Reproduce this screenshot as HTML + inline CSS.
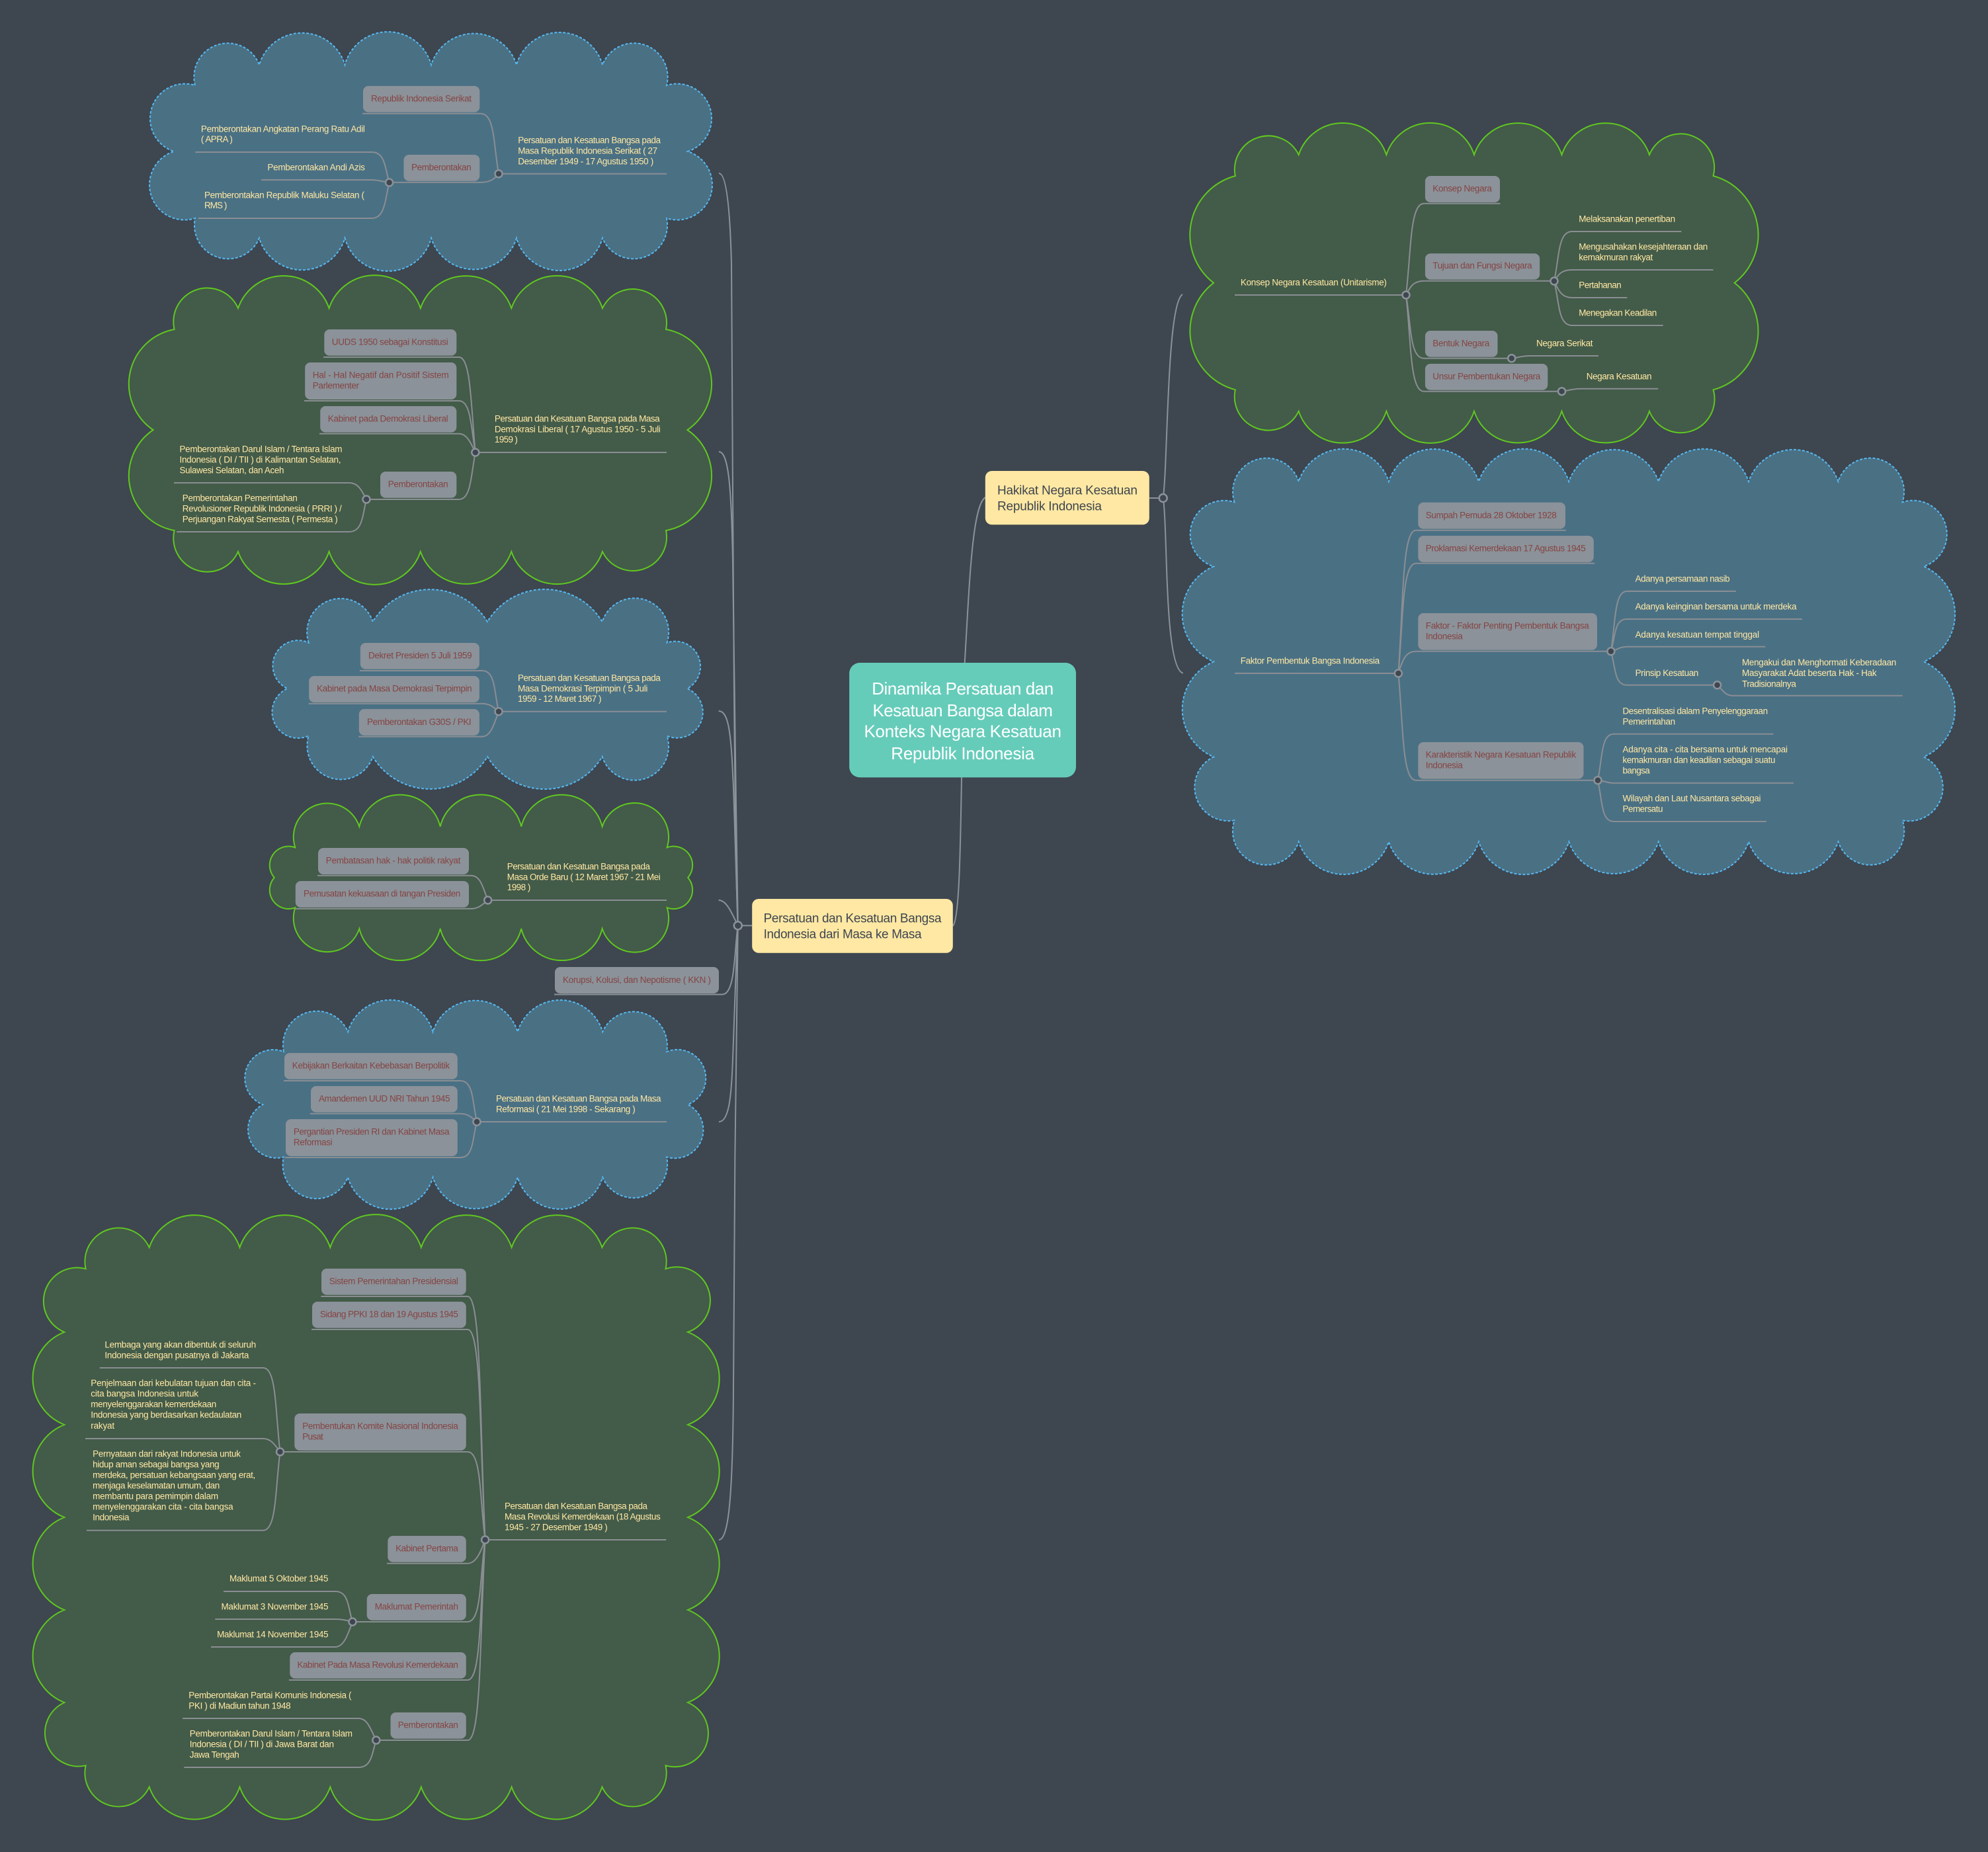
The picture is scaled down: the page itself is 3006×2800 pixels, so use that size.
<!DOCTYPE html>
<html><head><meta charset="utf-8"><title>Dinamika Persatuan dan Kesatuan Bangsa</title>
<style>
html,body{margin:0;padding:0;background:#3e4650}
svg{display:block}
text{font-family:"Liberation Sans",sans-serif}
.c{fill:none;stroke:#8b9299;stroke-width:2}
.t{fill:none;stroke:#8a8e93;stroke-width:2}
.gc{fill:#435b49;stroke:#5fc81f;stroke-width:2}
.bc{fill:#4a7084;stroke:#55b9f0;stroke-width:2;stroke-dasharray:4 2.5}
.j{fill:#3e4650;stroke:#8b9299;stroke-width:2.5}
.b rect{fill:#8b9299}
.b text{fill:#854444;font-size:13.5px}
.l text{fill:#ffe8a3;font-size:13.5px}
</style></head><body>
<svg xmlns="http://www.w3.org/2000/svg" width="3006" height="2800" viewBox="0 0 3006 2800">
<rect width="3006" height="2800" fill="#3e4650"/>

<!-- top level connectors -->
<g class="c">
<path d="M1458.7 1002C1466 880 1470 765 1489.8 752"/>
<path d="M1454 1175C1452 1300 1450 1390 1440.8 1400"/>
<path d="M1737.8 753H1758.7"/>
<path d="M1758.7 753C1766 700 1764 460 1788 445"/>
<path d="M1758.7 753C1766 800 1760 1010 1788.8 1017.8"/>
<path d="M1137.2 1399.4H1115.8"/>
<path d="M1115.8 1399C1110 1300 1108 700 1106 400C1105 360 1102 262 1087 262"/>
<path d="M1115.8 1399C1112 1200 1110 900 1108 850C1106 740 1102 683 1087 683"/>
<path d="M1115.8 1399C1112 1300 1110 1200 1108 1170C1105 1100 1100 1075 1086.6 1075"/>
<path d="M1115.8 1399C1108 1385 1100 1361 1086.6 1361"/>
<path d="M1115.8 1399C1110 1440 1112 1503.5 1092 1503.5H838"/>
<path d="M1115.8 1399C1112 1480 1110 1550 1108 1600C1106 1660 1102 1696 1087 1696"/>
<path d="M1115.8 1399C1112 1600 1110 1900 1109 2100C1108 2260 1102 2328 1087 2328"/>
</g>

<!-- clouds -->
<path class="bc" d="M295 129A51 51 0 0 1 392 98A67.6 67.6 0 0 1 521.5 98A67.6 67.6 0 0 1 652 98A67.6 67.6 0 0 1 781 98A67.6 67.6 0 0 1 911 98A51 51 0 0 1 1008 129A52.5 52.5 0 0 1 1040 229A52.5 52.5 0 0 1 1008 330A51 51 0 0 1 911 360A67.6 67.6 0 0 1 781 360A67.6 67.6 0 0 1 652 360A67.6 67.6 0 0 1 521.5 360A67.6 67.6 0 0 1 392 360A51 51 0 0 1 295 330A52.5 52.5 0 0 1 263 229A52.5 52.5 0 0 1 295 129Z"/>
<path class="gc" d="M263.6 498A51 51 0 0 1 360 466A72.8 72.8 0 0 1 497.6 466A72.8 72.8 0 0 1 635.8 466A72.8 72.8 0 0 1 773.3 466A72.8 72.8 0 0 1 911 466A51 51 0 0 1 1007 498A84 84 0 0 1 1039.4 650A84 84 0 0 1 1007 802A51 51 0 0 1 911 834A72.8 72.8 0 0 1 773.3 834A72.8 72.8 0 0 1 635.8 834A72.8 72.8 0 0 1 497.6 834A72.8 72.8 0 0 1 360 834A51 51 0 0 1 263.6 802A84 84 0 0 1 231.5 650A84 84 0 0 1 263.6 498Z"/>
<path class="bc" d="M466.7 971.7A51 51 0 0 1 563.7 940A101.3 101.3 0 0 1 737 940A101.3 101.3 0 0 1 910.6 940A51 51 0 0 1 1008.6 971.7A38 38 0 0 1 1039.2 1041A38 38 0 0 1 1008.6 1112.5A51 51 0 0 1 910.6 1144A101.3 101.3 0 0 1 737 1144A101.3 101.3 0 0 1 563.7 1144A51 51 0 0 1 466.7 1112.5A38 38 0 0 1 434.6 1041A38 38 0 0 1 466.7 971.7Z"/>
<path class="gc" d="M446.3 1281.3A51 51 0 0 1 543.3 1249.7A63 63 0 0 1 665.7 1249.7A63 63 0 0 1 788.2 1249.7A63 63 0 0 1 910.6 1249.7A51 51 0 0 1 1008.6 1281.3A28.6 28.6 0 0 1 1040.2 1326.8A28.6 28.6 0 0 1 1008.6 1372.3A51 51 0 0 1 910.6 1404A63 63 0 0 1 788.2 1404A63 63 0 0 1 665.7 1404A63 63 0 0 1 543.3 1404A51 51 0 0 1 446.3 1372.3A28.6 28.6 0 0 1 414.7 1326.8A28.6 28.6 0 0 1 446.3 1281.3Z"/>
<path class="bc" d="M429 1590A51 51 0 0 1 526 1560A67 67 0 0 1 654.6 1560A67 67 0 0 1 782.7 1560A67 67 0 0 1 911.2 1560A51 51 0 0 1 1008 1590A43 43 0 0 1 1040.3 1670A43 43 0 0 1 1008 1749.3A51 51 0 0 1 911.2 1780A67 67 0 0 1 782.7 1780A67 67 0 0 1 654.6 1780A67 67 0 0 1 526 1780A51 51 0 0 1 429 1749.3A43 43 0 0 1 397.4 1670A43 43 0 0 1 429 1590Z"/>
<path class="gc" d="M129.6 1918.3A51 51 0 0 1 225.7 1886A72.3 72.3 0 0 1 362.5 1886A72.3 72.3 0 0 1 499.3 1886A72.3 72.3 0 0 1 636.8 1886A72.3 72.3 0 0 1 773.6 1886A72.3 72.3 0 0 1 910.4 1886A51 51 0 0 1 1006.5 1918.3A50.6 50.6 0 0 1 1040 2014A75.2 75.2 0 0 1 1040 2154A75.2 75.2 0 0 1 1040 2294A75.2 75.2 0 0 1 1040 2434A75.2 75.2 0 0 1 1040 2574A50.6 50.6 0 0 1 1006.5 2669.3A51 51 0 0 1 910.4 2701.7A72.3 72.3 0 0 1 773.6 2701.7A72.3 72.3 0 0 1 636.8 2701.7A72.3 72.3 0 0 1 499.3 2701.7A72.3 72.3 0 0 1 362.5 2701.7A72.3 72.3 0 0 1 225.7 2701.7A51 51 0 0 1 129.6 2669.3A50.6 50.6 0 0 1 97.3 2574A75.2 75.2 0 0 1 97.3 2434A75.2 75.2 0 0 1 97.3 2294A75.2 75.2 0 0 1 97.3 2154A75.2 75.2 0 0 1 97.3 2014A50.6 50.6 0 0 1 129.6 1918.3Z"/>
<path class="gc" d="M1867.8 266A51 51 0 0 1 1963.7 234A69.8 69.8 0 0 1 2096.3 234A69.8 69.8 0 0 1 2229 234A69.8 69.8 0 0 1 2361.5 234A69.8 69.8 0 0 1 2494 234A51 51 0 0 1 2590.6 266A92 92 0 0 1 2622.7 427.7A92 92 0 0 1 2590.6 589.3A51 51 0 0 1 2494 621.7A69.8 69.8 0 0 1 2361.5 621.7A69.8 69.8 0 0 1 2229 621.7A69.8 69.8 0 0 1 2096.3 621.7A69.8 69.8 0 0 1 1963.7 621.7A51 51 0 0 1 1867.8 589.3A92 92 0 0 1 1835 427.7A92 92 0 0 1 1867.8 266Z"/>
<path class="bc" d="M1866.5 759.2A51 51 0 0 1 1963.7 728A71.7 71.7 0 0 1 2099.9 728A71.7 71.7 0 0 1 2236 728A71.7 71.7 0 0 1 2372.3 728A71.7 71.7 0 0 1 2507.8 728A71.7 71.7 0 0 1 2644 728A71.7 71.7 0 0 1 2779.5 728A51 51 0 0 1 2876.7 759.2A51 51 0 0 1 2908.8 856.4A78.4 78.4 0 0 1 2908.8 1000.4A78.4 78.4 0 0 1 2908.8 1144.3A51 51 0 0 1 2876.7 1240.3A51 51 0 0 1 2779.5 1272.7A71.7 71.7 0 0 1 2644 1272.7A71.7 71.7 0 0 1 2507.8 1272.7A71.7 71.7 0 0 1 2372.3 1272.7A71.7 71.7 0 0 1 2236 1272.7A71.7 71.7 0 0 1 2099.9 1272.7A71.7 71.7 0 0 1 1963.7 1272.7A51 51 0 0 1 1866.5 1240.3A51 51 0 0 1 1835 1144.3A78.4 78.4 0 0 1 1835 1000.4A78.4 78.4 0 0 1 1835 856.4A51 51 0 0 1 1866.5 759.2Z"/>

<!-- main nodes -->
<rect x="1284.2" y="1002" width="342.8" height="173.4" rx="16" fill="#66ccba"/>
<g fill="#fff" font-size="26" text-anchor="middle">
<text x="1455.7" y="1050" textLength="275">Dinamika Persatuan dan</text>
<text x="1455.7" y="1083" textLength="272.4">Kesatuan Bangsa dalam</text>
<text x="1455.7" y="1114.7" textLength="298.5">Konteks Negara Kesatuan</text>
<text x="1455.7" y="1147.9" textLength="216.8">Republik Indonesia</text>
</g>
<rect x="1489.8" y="712" width="248" height="81.3" rx="10" fill="#ffe8a3"/>
<rect x="1137.2" y="1359" width="303.6" height="81.7" rx="10" fill="#ffe8a3"/>
<g fill="#3e4650" font-size="19">
<text x="1508" y="747.3" textLength="212">Hakikat Negara Kesatuan</text>
<text x="1508" y="771.3" textLength="158">Republik Indonesia</text>
<text x="1154.6" y="1394.3" textLength="269">Persatuan dan Kesatuan Bangsa</text>
<text x="1154.6" y="1418.3" textLength="239">Indonesia dari Masa ke Masa</text>
</g>

<!-- gray boxes -->
<g class="b">
<rect x="2154.9" y="266" width="113.1" height="40" rx="8"/>
<rect x="2154.9" y="383.3" width="173.3" height="39.4" rx="8"/>
<rect x="2154.9" y="500" width="109.6" height="39.7" rx="8"/>
<rect x="2154.9" y="550" width="185.4" height="39.7" rx="8"/>
<rect x="2144.3" y="759.6" width="222.7" height="40" rx="8"/>
<rect x="2144.3" y="810" width="265.5" height="40" rx="8"/>
<rect x="2144.3" y="927" width="270.7" height="55.7" rx="8"/>
<rect x="2144.3" y="1122" width="250.2" height="55.6" rx="8"/>
<rect x="549" y="130" width="176.3" height="39.7" rx="8"/>
<rect x="610.4" y="234" width="114.9" height="39.7" rx="8"/>
<rect x="490.3" y="498" width="200" height="39.7" rx="8"/>
<rect x="461.2" y="548" width="229.1" height="56" rx="8"/>
<rect x="484.2" y="614" width="206.1" height="39.7" rx="8"/>
<rect x="575" y="713" width="115.3" height="39.7" rx="8"/>
<rect x="544.8" y="972" width="180.1" height="39.7" rx="8"/>
<rect x="467.2" y="1022" width="257.7" height="40" rx="8"/>
<rect x="542.8" y="1072" width="182.1" height="40" rx="8"/>
<rect x="481" y="1282" width="228" height="40" rx="8"/>
<rect x="446.8" y="1332" width="262.2" height="40" rx="8"/>
<rect x="839" y="1462" width="248" height="40" rx="8"/>
<rect x="430" y="1592" width="261.8" height="39.7" rx="8"/>
<rect x="470" y="1642" width="221.8" height="39.7" rx="8"/>
<rect x="432" y="1692" width="259.8" height="56" rx="8"/>
<rect x="486" y="1918" width="218.8" height="39.7" rx="8"/>
<rect x="472" y="1968" width="232.8" height="39.7" rx="8"/>
<rect x="445.3" y="2137" width="259.5" height="56" rx="8"/>
<rect x="586.3" y="2322" width="118.5" height="39.7" rx="8"/>
<rect x="554.7" y="2410" width="150.1" height="39.7" rx="8"/>
<rect x="438.3" y="2498" width="266.5" height="39.7" rx="8"/>
<rect x="590.5" y="2589" width="114.3" height="39.7" rx="8"/>
<text x="2166.3" y="289.3" textLength="89.6">Konsep Negara</text>
<text x="2166.3" y="406" textLength="150.4">Tujuan dan Fungsi Negara</text>
<text x="2166.3" y="523.3" textLength="86">Bentuk Negara</text>
<text x="2166.3" y="573.3" textLength="163">Unsur Pembentukan Negara</text>
<text x="2155.8" y="783.6" textLength="198">Sumpah Pemuda 28 Oktober 1928</text>
<text x="2155.8" y="833.7" textLength="241.8">Proklamasi Kemerdekaan 17 Agustus 1945</text>
<text x="2155.8" y="950.7" textLength="247">Faktor - Faktor Penting Pembentuk Bangsa</text>
<text x="2155.8" y="966.7" textLength="56">Indonesia</text>
<text x="2155.8" y="1145.6" textLength="227.3">Karakteristik Negara Kesatuan Republik</text>
<text x="2155.8" y="1161.6" textLength="56">Indonesia</text>
<text x="561" y="153.3" textLength="152">Republik Indonesia Serikat</text>
<text x="622" y="257.3" textLength="90.7">Pemberontakan</text>
<text x="501.8" y="521.7" textLength="175.8">UUDS 1950 sebagai Konstitusi</text>
<text x="472.7" y="571.7" textLength="206">Hal - Hal Negatif dan Positif Sistem</text>
<text x="472.7" y="587.7" textLength="70.3">Parlementer</text>
<text x="495.8" y="637.7" textLength="181.8">Kabinet pada Demokrasi Liberal</text>
<text x="586.7" y="736.7" textLength="90.9">Pemberontakan</text>
<text x="557" y="995.5" textLength="156.6">Dekret Presiden 5 Juli 1959</text>
<text x="479" y="1045.7" textLength="234.7">Kabinet pada Masa Demokrasi Terpimpin</text>
<text x="555" y="1095.9" textLength="157.7">Pemberontakan G30S / PKI</text>
<text x="492.8" y="1305.5" textLength="203.6">Pembatasan hak - hak politik rakyat</text>
<text x="459" y="1355.7" textLength="237.2">Pemusatan kekuasaan di tangan Presiden</text>
<text x="851" y="1485.8" textLength="224">Korupsi, Kolusi, dan Nepotisme ( KKN )</text>
<text x="441.8" y="1615.3" textLength="238.3">Kebijakan Berkaitan Kebebasan Berpolitik</text>
<text x="482" y="1665.3" textLength="198.5">Amandemen UUD NRI Tahun 1945</text>
<text x="443.9" y="1715.3" textLength="235.7">Pergantian Presiden RI dan Kabinet Masa</text>
<text x="443.9" y="1731.3" textLength="58.7">Reformasi</text>
<text x="497.9" y="1941.7" textLength="195">Sistem Pemerintahan Presidensial</text>
<text x="483.9" y="1991.7" textLength="209">Sidang PPKI 18 dan 19 Agustus 1945</text>
<text x="457.2" y="2160.7" textLength="235.7">Pembentukan Komite Nasional Indonesia</text>
<text x="457.2" y="2176.7" textLength="31.6">Pusat</text>
<text x="598.2" y="2345.7" textLength="94.7">Kabinet Pertama</text>
<text x="566.7" y="2433.3" textLength="126.3">Maklumat Pemerintah</text>
<text x="449.5" y="2521.7" textLength="243.4">Kabinet Pada Masa Revolusi Kemerdekaan</text>
<text x="601.7" y="2612.7" textLength="91.2">Pemberontakan</text>
</g>

<!-- tree lines -->
<g class="t">
<path d="M1867 446H2126M2126 446C2134 377 2132 307.7 2153 307.7H2268.5M2126 446C2132 435 2136 424.7 2153 424.7H2350M2126 446C2134 494 2132 541.7 2153 541.7H2285.7M2126 446C2134 519 2132 591.7 2153 591.7H2361.5"/>
<path d="M2285.7 541.7C2295 541 2300 538 2314 538H2417M2361.5 591.7C2371 591 2376 587.7 2390 587.7H2507.3"/>
<path d="M2350 425C2358 387 2356 350 2377 350H2542.3M2350 425C2356 416 2360 408 2377 408H2590.6M2350 425C2356 437 2360 450 2377 450H2460.3M2350 425C2358 458 2356 492 2377 492H2514.8"/>
<path d="M1867.2 1018H2114.4M2114.4 1018C2122 910 2120 801.7 2141 801.7H2367.7M2114.4 1018C2122 935 2120 851.8 2141 851.8H2411M2114.4 1018C2120 1001 2124 984.8 2141 984.8H2435.9M2114.4 1018C2122 1099 2120 1179.7 2141 1179.7H2416"/>
<path d="M2435.9 984.8C2443 939 2441 893.9 2460 893.9H2624.9M2435.9 984.8C2443 960 2441 936 2460 936H2725M2435.9 984.8C2443 984 2448 977.7 2460 977.7H2669.3M2435.9 984.8C2443 1010 2441 1035.7 2460 1035.7H2596.6M2596.6 1035.7C2604 1042 2608 1051.7 2620 1051.7H2876.7"/>
<path d="M2416 1179.7C2423 1145 2421 1109.8 2440 1109.8H2681.5M2416 1179.7C2424 1180 2430 1183.9 2440 1183.9H2712M2416 1179.7C2423 1211 2421 1242 2440 1242H2670.8"/>
<path d="M754 262.7H1008.3M754 262.7C746 217 748 171.7 727 171.7H548M754 262.7C748 270 742 275.7 727 275.7H588.6"/>
<path d="M588.6 276C582 253 582 230 562 230H295.3M588.6 276C580 275 572 272 562 272H395.2M588.6 276C582 303 582 330 562 330H299.9"/>
<path d="M718.8 684H1007.9M718.8 684C712 612 712 540 694 540H489M718.8 684C712 645 712 606 694 606H460M718.8 684C712 670 706 655.7 694 655.7H483M718.8 684C712 720 712 755 694 755H554"/>
<path d="M554 755C547 742 542 730 528 730H263M554 755C548 780 548 804 528 804H267.3"/>
<path d="M754 1075.7H1008M754 1075.7C747 1045 749 1014 729 1014H543.8M754 1075.7C747 1070 742 1063.9 729 1063.9H466.7M754 1075.7C747 1095 742 1113.7 729 1113.7H542"/>
<path d="M737.7 1361H1008M737.7 1361C730 1342 727 1323.7 712 1323.7H480M737.7 1361C730 1367 724 1373.9 712 1373.9H446.3"/>
<path d="M721 1696H1008M721 1696C714 1665 716 1634 696 1634H429M721 1696C714 1690 708 1683.7 696 1683.7H468.9M721 1696C714 1723 716 1750 696 1750H431"/>
<path d="M733.6 2328H1007.2M733.6 2328C725 2144 728 1960 707 1960H485.3M733.6 2328C725 2169 728 2010 707 2010H471M733.6 2328C725 2262 728 2195 707 2195H423.5M733.6 2328C727 2346 720 2363.7 707 2363.7H585M733.6 2328C725 2390 728 2452 707 2452H533M733.6 2328C725 2434 728 2540 707 2540H436.9M733.6 2328C725 2480 728 2631 707 2631H568.8"/>
<path d="M423.5 2195C416 2131 418 2068 398 2068H150.7M423.5 2195C416 2185 410 2175 398 2175H128.9M423.5 2195C416 2254 418 2313.7 398 2313.7H131"/>
<path d="M533 2452C526 2429 527 2406 507 2406H338M533 2452C526 2450 518 2448 507 2448H325.3M533 2452C526 2471 520 2490 507 2490H319"/>
<path d="M568.8 2631C560 2614 556 2598 542 2598H276.2M568.8 2631C562 2652 562 2672 542 2672H278.3"/>
</g>

<!-- junctions -->
<g class="j">
<circle cx="1758.7" cy="753" r="6"/><circle cx="1115.8" cy="1399.4" r="6"/>
<circle cx="2126" cy="446" r="5.5"/><circle cx="2350" cy="425" r="5.5"/><circle cx="2285.7" cy="541.7" r="5.5"/><circle cx="2361.5" cy="591.7" r="5.5"/>
<circle cx="2114.4" cy="1018" r="5.5"/><circle cx="2435.9" cy="984.8" r="5.5"/><circle cx="2596.6" cy="1035.7" r="5.5"/><circle cx="2416" cy="1179.7" r="5.5"/>
<circle cx="754" cy="262.7" r="5.5"/><circle cx="588.6" cy="276" r="5.5"/>
<circle cx="718.8" cy="684" r="5.5"/><circle cx="554" cy="755" r="5.5"/>
<circle cx="754" cy="1075.7" r="5.5"/><circle cx="737.7" cy="1361" r="5.5"/><circle cx="721" cy="1696" r="5.5"/>
<circle cx="733.6" cy="2328" r="5.5"/><circle cx="423.5" cy="2195" r="5.5"/><circle cx="533" cy="2452" r="5.5"/><circle cx="568.8" cy="2631" r="5.5"/>
</g>

<!-- leaf text -->
<g class="l">
<text x="1875.9" y="431.7" textLength="221">Konsep Negara Kesatuan (Unitarisme)</text>
<text x="2387.3" y="335.7" textLength="145.8">Melaksanakan penertiban</text>
<text x="2387.3" y="377.3" textLength="195">Mengusahakan kesejahteraan dan</text>
<text x="2387.3" y="393.3" textLength="112">kemakmuran rakyat</text>
<text x="2387.3" y="435.7" textLength="64.3">Pertahanan</text>
<text x="2387.3" y="477.3" textLength="118">Menegakan Keadilan</text>
<text x="2323" y="523.3" textLength="85.5">Negara Serikat</text>
<text x="2398.8" y="573.3" textLength="98.7">Negara Kesatuan</text>
<text x="1875.7" y="1003.3" textLength="210.5">Faktor Pembentuk Bangsa Indonesia</text>
<text x="2472.6" y="879.6" textLength="143">Adanya persamaan nasib</text>
<text x="2472.6" y="921.7" textLength="244">Adanya keinginan bersama untuk merdeka</text>
<text x="2472.6" y="963.8" textLength="187.5">Adanya kesatuan tempat tinggal</text>
<text x="2472.6" y="1021.8" textLength="95.7">Prinsip Kesatuan</text>
<text x="2634" y="1005.9" textLength="233.4">Mengakui dan Menghormati Keberadaan</text>
<text x="2634" y="1021.8" textLength="203.6">Masyarakat Adat beserta Hak - Hak</text>
<text x="2634" y="1038.3" textLength="81.9">Tradisionalnya</text>
<text x="2453.5" y="1079.5" textLength="219.6">Desentralisasi dalam Penyelenggaraan</text>
<text x="2453.5" y="1095.5" textLength="79.6">Pemerintahan</text>
<text x="2453.5" y="1137.6" textLength="249.5">Adanya cita - cita bersama untuk mencapai</text>
<text x="2453.5" y="1153.6" textLength="231">kemakmuran dan keadilan sebagai suatu</text>
<text x="2453.5" y="1169.6" textLength="41.3">bangsa</text>
<text x="2453.5" y="1211.7" textLength="209">Wilayah dan Laut Nusantara sebagai</text>
<text x="2453.5" y="1227.7" textLength="61">Pemersatu</text>

<text x="783.2" y="216.7" textLength="215.8">Persatuan dan Kesatuan Bangsa pada</text>
<text x="783.2" y="232.3" textLength="211">Masa Republik Indonesia Serikat ( 27</text>
<text x="783.2" y="248.3" textLength="205">Desember 1949 - 17 Agustus 1950 )</text>
<text x="303.9" y="199.3" textLength="248">Pemberontakan Angkatan Perang Ratu Adil</text>
<text x="303.9" y="215" textLength="48">( APRA )</text>
<text x="404.4" y="257.3" textLength="147.5">Pemberontakan Andi Azis</text>
<text x="309" y="299.3" textLength="242">Pemberontakan Republik Maluku Selatan (</text>
<text x="309" y="315" textLength="34.4">RMS )</text>

<text x="747.9" y="637.7" textLength="249.7">Persatuan dan Kesatuan Bangsa pada Masa</text>
<text x="747.9" y="653.3" textLength="250.9">Demokrasi Liberal ( 17 Agustus 1950 - 5 Juli</text>
<text x="747.9" y="669" textLength="35">1959 )</text>
<text x="271.5" y="683.3" textLength="246">Pemberontakan Darul Islam / Tentara Islam</text>
<text x="271.5" y="699.3" textLength="244">Indonesia ( DI / TII ) di Kalimantan Selatan,</text>
<text x="271.5" y="715.3" textLength="158">Sulawesi Selatan, dan Aceh</text>
<text x="275.8" y="757.3" textLength="174">Pemberontakan Pemerintahan</text>
<text x="275.8" y="773.3" textLength="241">Revolusioner Republik Indonesia ( PRRI ) /</text>
<text x="275.8" y="789.3" textLength="235">Perjuangan Rakyat Semesta ( Permesta )</text>

<text x="783" y="1029.5" textLength="215.8">Persatuan dan Kesatuan Bangsa pada</text>
<text x="783" y="1045.3" textLength="196.4">Masa Demokrasi Terpimpin ( 5 Juli</text>
<text x="783" y="1061" textLength="126.5">1959 - 12 Maret 1967 )</text>

<text x="766.7" y="1314.6" textLength="216.3">Persatuan dan Kesatuan Bangsa pada</text>
<text x="766.7" y="1330.4" textLength="232">Masa Orde Baru ( 12 Maret 1967 - 21 Mei</text>
<text x="766.7" y="1346.2" textLength="35.7">1998 )</text>

<text x="750" y="1665.3" textLength="249.5">Persatuan dan Kesatuan Bangsa pada Masa</text>
<text x="750" y="1681.3" textLength="210.7">Reformasi ( 21 Mei 1998 - Sekarang )</text>

<text x="763" y="2281.7" textLength="216">Persatuan dan Kesatuan Bangsa pada</text>
<text x="763" y="2297.7" textLength="235.7">Masa Revolusi Kemerdekaan (18 Agustus</text>
<text x="763" y="2313.7" textLength="155.7">1945 - 27 Desember 1949 )</text>
<text x="158.4" y="2037.3" textLength="228.7">Lembaga yang akan dibentuk di seluruh</text>
<text x="158.4" y="2053.3" textLength="218">Indonesia dengan pusatnya di Jakarta</text>
<text x="137.3" y="2095.7" textLength="249.7">Penjelmaan dari kebulatan tujuan dan cita -</text>
<text x="137.3" y="2111.7" textLength="162.7">cita bangsa Indonesia untuk</text>
<text x="137.3" y="2127.7" textLength="190">menyelenggarakan kemerdekaan</text>
<text x="137.3" y="2143.7" textLength="228">Indonesia yang berdasarkan kedaulatan</text>
<text x="137.3" y="2160" textLength="35.8">rakyat</text>
<text x="140.1" y="2202.3" textLength="223.8">Pernyataan dari rakyat Indonesia untuk</text>
<text x="140.1" y="2218.3" textLength="191.5">hidup aman sebagai bangsa yang</text>
<text x="140.1" y="2234.3" textLength="246.2">merdeka, persatuan kebangsaan yang erat,</text>
<text x="140.1" y="2250.3" textLength="192.2">menjaga keselamatan umum, dan</text>
<text x="140.1" y="2266.3" textLength="190">membantu para pemimpin dalam</text>
<text x="140.1" y="2282.3" textLength="212.6">menyelenggarakan cita - cita bangsa</text>
<text x="140.1" y="2298.3" textLength="55.4">Indonesia</text>
<text x="347" y="2391" textLength="149.4">Maklumat 5 Oktober 1945</text>
<text x="334.5" y="2433.3" textLength="162">Maklumat 3 November 1945</text>
<text x="328.1" y="2475.3" textLength="168.4">Maklumat 14 November 1945</text>
<text x="285.3" y="2567.3" textLength="246.2">Pemberontakan Partai Komunis Indonesia (</text>
<text x="285.3" y="2583.3" textLength="154.3">PKI ) di Madiun tahun 1948</text>
<text x="286.8" y="2625.7" textLength="246.2">Pemberontakan Darul Islam / Tentara Islam</text>
<text x="286.8" y="2641.7" textLength="218.2">Indonesia ( DI / TII ) di Jawa Barat dan</text>
<text x="286.8" y="2657.7" textLength="75">Jawa Tengah</text>
</g>
</svg>
</body></html>
